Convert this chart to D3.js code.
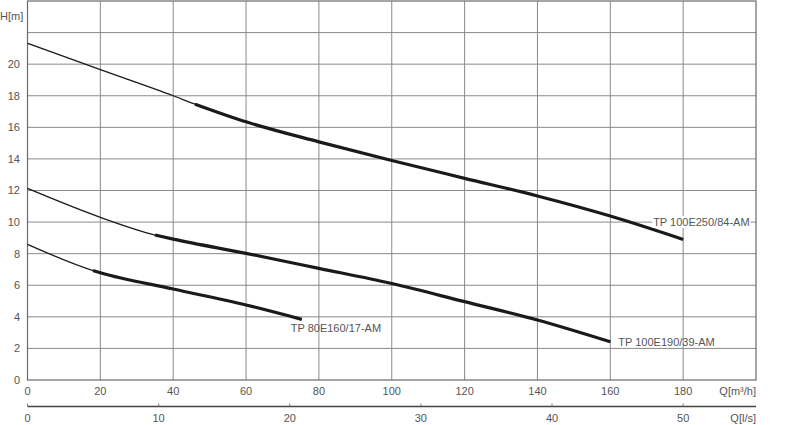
<!DOCTYPE html>
<html>
<head>
<meta charset="utf-8">
<script src="https://cdn.jsdelivr.net/npm/d3@7"></script>
<style>
  html, body { margin: 0; padding: 0; background: #fff; }
  svg { display: block; }
  text { font-family: "Liberation Sans", Arial, sans-serif; font-size: 11px; fill: #555; }
</style>
</head>
<body>
<svg id="chart" width="800" height="425"></svg>
<script>
// ---- data ----
const xTicks = [0, 20, 40, 60, 80, 100, 120, 140, 160, 180];
const yTicks = [0, 2, 4, 6, 8, 10, 12, 14, 16, 18, 20];
const lsTicks = [0, 10, 20, 30, 40, 50];

const c1Name = "TP 100E250/84-AM";
const c1Q = [0, 20, 40, 46, 60, 80, 100, 120, 140, 160, 180];
const c1H = [21.32, 19.65, 18.0, 17.47, 16.35, 15.08, 13.9, 12.77, 11.65, 10.38, 8.9];
const c1ThickFrom = 3;

const c2Name = "TP 100E190/39-AM";
const c2Q = [0, 20, 35, 40, 60, 80, 100, 120, 140, 160];
const c2H = [12.13, 10.3, 9.18, 8.92, 8.02, 7.07, 6.11, 4.96, 3.80, 2.42];
const c2ThickFrom = 2;

const c3Name = "TP 80E160/17-AM";
const c3Q = [0, 18, 20, 40, 60, 75.3];
const c3H = [8.59, 6.93, 6.79, 5.76, 4.75, 3.84];
const c3ThickFrom = 1;

// ---- layout ----
const svg = d3.select("#chart");
const L = 27.5, R = 756, T = 1, B = 380;
const x = d3.scaleLinear().domain([0, 200]).range([L, R]);
const y = d3.scaleLinear().domain([0, 24]).range([B, T]);
const xls = d3.scaleLinear().domain([0, 200 / 3.6]).range([L, R]);

// grid
const grid = svg.append("g");
d3.range(20, 200, 20).forEach(v => {
  grid.append("line").attr("x1", x(v)).attr("x2", x(v)).attr("y1", y(0)).attr("y2", y(24))
    .attr("stroke", "#8a8a8a").attr("stroke-width", 1);
});
d3.range(2, 24, 2).forEach(v => {
  grid.append("line").attr("x1", x(0)).attr("x2", x(200)).attr("y1", y(v)).attr("y2", y(v))
    .attr("stroke", "#8a8a8a").attr("stroke-width", 1);
});
// border
svg.append("rect").attr("x", L).attr("y", T).attr("width", R - L).attr("height", B - T)
  .attr("fill", "none").attr("stroke", "#6a6a6a").attr("stroke-width", 1.2);

// y labels
svg.append("g").selectAll("text").data(yTicks).join("text")
  .attr("x", 20).attr("y", d => y(d)).attr("dy", "0.35em").attr("text-anchor", "end")
  .text(d => d);
svg.append("text").attr("x", 0).attr("y", 16).attr("dy", "0.35em").text("H[m]");

// x labels (m3/h)
svg.append("g").selectAll("text").data(xTicks).join("text")
  .attr("x", d => x(d)).attr("y", 391).attr("dy", "0.35em").attr("text-anchor", "middle")
  .text(d => d);
svg.append("text").attr("x", R).attr("y", 391).attr("dy", "0.35em").attr("text-anchor", "end")
  .text("Q[m³/h]");

// l/s axis
svg.append("line").attr("x1", L).attr("x2", R).attr("y1", 406.5).attr("y2", 406.5)
  .attr("stroke", "#444").attr("stroke-width", 1.4);
svg.append("g").selectAll("line").data(lsTicks).join("line")
  .attr("x1", d => xls(d)).attr("x2", d => xls(d)).attr("y1", 406.5).attr("y2", 403.5)
  .attr("stroke", "#777").attr("stroke-width", 1);
svg.append("g").selectAll("text").data(lsTicks).join("text")
  .attr("x", d => xls(d)).attr("y", 418).attr("dy", "0.35em").attr("text-anchor", "middle")
  .text(d => d);
svg.append("text").attr("x", R).attr("y", 418).attr("dy", "0.35em").attr("text-anchor", "end")
  .text("Q[l/s]");

// curves
const line = d3.line().x(d => x(d[0])).y(d => y(d[1])).curve(d3.curveMonotoneX);
function drawCurve(Q, H, from) {
  const pts = Q.map((q, i) => [q, H[i]]);
  svg.append("path").attr("d", line(pts)).attr("fill", "none")
    .attr("stroke", "#1a1a1a").attr("stroke-width", 1.3);
  svg.append("path").attr("d", line(pts.slice(from))).attr("fill", "none")
    .attr("stroke", "#1a1a1a").attr("stroke-width", 3.2).attr("stroke-linecap", "butt");
  return pts[pts.length - 1];
}
const e1 = drawCurve(c1Q, c1H, c1ThickFrom);
const e2 = drawCurve(c2Q, c2H, c2ThickFrom);
const e3 = drawCurve(c3Q, c3H, c3ThickFrom);

// labels
function label(name, px, py, bg) {
  const t = svg.append("text").attr("x", px).attr("y", py).attr("dy", "0.35em").text(name);
  if (bg) {
    const bb = t.node().getBBox();
    svg.insert("rect", () => t.node()).attr("x", bb.x - 1).attr("y", bb.y)
      .attr("width", bb.width + 2).attr("height", bb.height).attr("fill", "#fff");
  }
}
label(c1Name, x(e1[0]) - 30, y(10), true);
label(c2Name, x(e2[0]) + 8, y(e2[1]), false);
label(c3Name, x(e3[0]) - 11, y(e3[1]) + 9, false);
</script>
</body>
</html>
